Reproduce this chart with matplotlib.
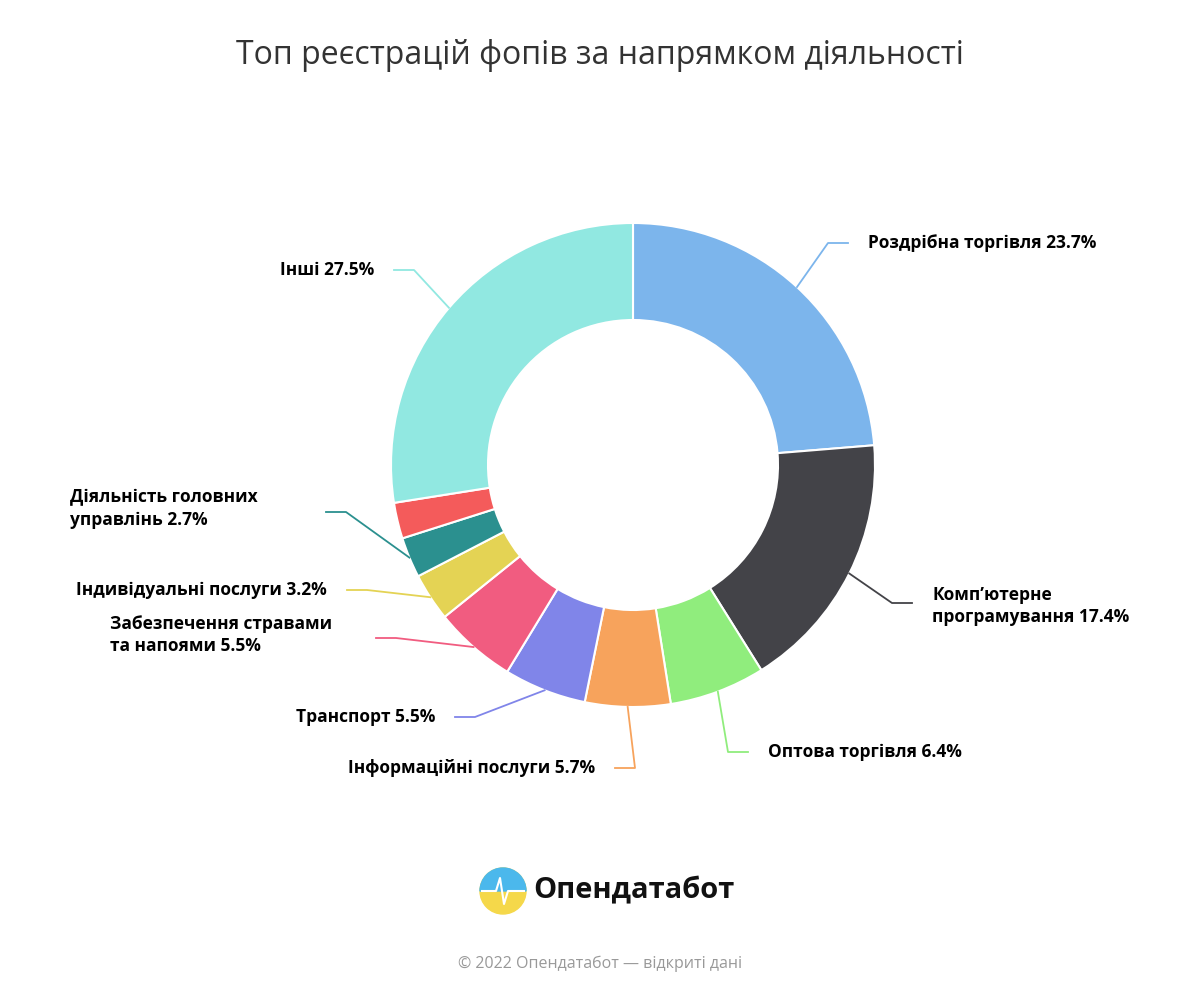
import numpy as np
import matplotlib
matplotlib.use("Agg")
import matplotlib.pyplot as plt

labels = ["Роздрібна торгівля 23.7%", "Комп’ютерне\nпрограмування 17.4%", "Оптова торгівля 6.4%",
          "Інформаційні послуги 5.7%", "Транспорт 5.5%", "Забезпечення стравами\nта напоями 5.5%",
          "Індивідуальні послуги 3.2%", "Діяльність головних\nуправлінь 2.7%", "", "Інші 27.5%"]
values = [23.7, 17.4, 6.4, 5.7, 5.5, 5.5, 3.2, 2.7, 2.4, 27.5]
colors = ["#7cb5ec", "#434348", "#90ed7d", "#f7a35c", "#8085e9", "#f15c80",
          "#e4d354", "#2b908f", "#f45b5b", "#91e8e1"]
# label end-point (pixel coords), alignment
lab_pos = [(848, 243, "left"), (912, 603, "left"), (748, 752, "left"), (615, 768, "right"),
           (455, 717, "right"), (376, 638, "right"), (347, 590, "right"), (326, 512, "right"),
           None, (394, 270, "right")]

FONT = "Open Sans"
fig = plt.figure(figsize=(12, 10), dpi=100)
ax = fig.add_axes([0, 0, 1, 1])
ax.set_xlim(0, 1200); ax.set_ylim(0, 1000); ax.set_aspect("equal"); ax.axis("off")
H = 1000
cx, cy, R, Ri = 633, H - 465, 242, 145
wedges, _ = ax.pie(values, colors=colors, center=(cx, cy), radius=R, startangle=90,
                   counterclock=False, wedgeprops=dict(width=R - Ri, edgecolor="white", linewidth=1.5))
ax.set_xlim(0, 1200); ax.set_ylim(0, 1000)

for w, lab, pos, col in zip(wedges, labels, lab_pos, colors):
    if pos is None:
        continue
    ang = np.deg2rad((w.theta1 + w.theta2) / 2)
    x0, y0 = cx + R * np.cos(ang), cy + R * np.sin(ang)
    ex, ey = pos[0], H - pos[1]
    side = 1 if pos[2] == "left" else -1
    bx = ex - side * 20
    ax.plot([x0, bx, ex], [y0, ey, ey], color=col, lw=1.3)
    if "Забезпечення" in lab or "Діяльність" in lab:
        tx = ex - 10 - (256 if "Забезпечення" in lab else 246)
        ax.text(tx, ey + 3, lab, ha="left", va="center", fontsize=12.5, fontweight="bold",
                family=FONT, linespacing=1.35, color="black")
    else:
        tx = ex + side * 20
        ax.text(tx, ey - 3 if "\n" in lab else ey, lab, ha=pos[2] if "\n" not in lab else "left",
                va="center" if "\n" in lab else "center", fontsize=12.5, fontweight="bold", family=FONT,
                linespacing=1.35, color="black")
# fix multiline positions roughly
ax.text(600, H - 55, "Топ реєстрацій фопів за напрямком діяльності", ha="center", va="center",
        fontsize=23, color="#333333", family=FONT)
# logo
theta = np.linspace(0, 2 * np.pi, 100)
ax.add_patch(plt.Circle((503, H - 891), 23, color="#f5d84a"))
ax.add_patch(matplotlib.patches.Wedge((503, H - 891), 23, 0, 180, color="#4bb8ec"))
ax.plot([482, 496, 500, 504, 508, 524], [H - 891, H - 891, H - 878, H - 904, H - 891, H - 891], color="white", lw=1.5)
ax.text(533, H - 891, "Опендатабот", ha="left", va="center", fontsize=21, fontweight="bold",
        family=FONT, color="#111111")
ax.text(600, H - 964, "© 2022 Опендатабот — відкриті дані", ha="center", va="center",
        fontsize=11.5, color="#999999", family=FONT)
fig.savefig("out.png", dpi=100, facecolor="white")
